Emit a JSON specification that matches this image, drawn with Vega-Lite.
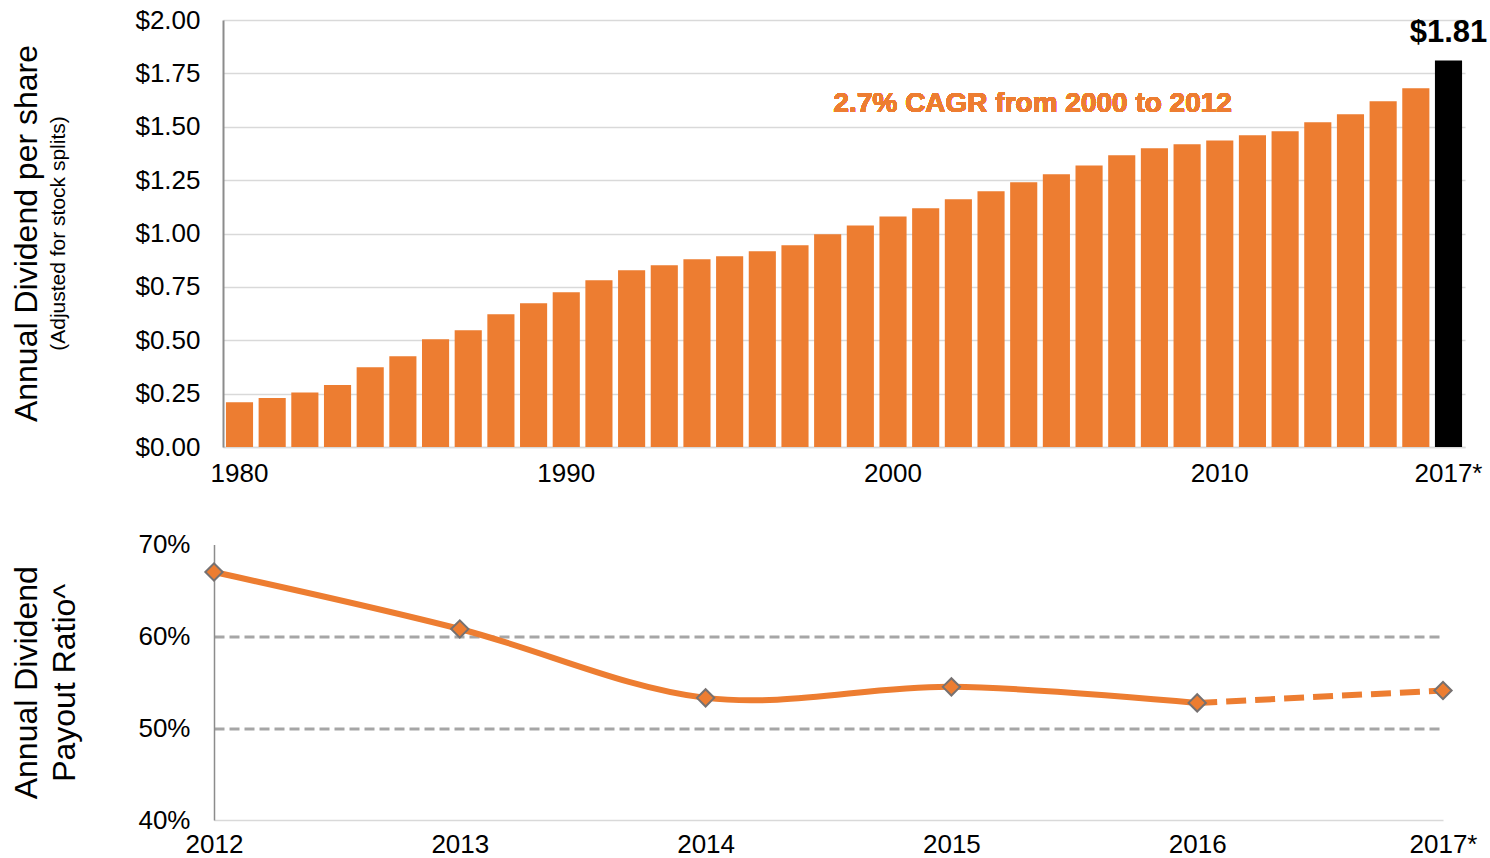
{
  "$schema": "https://vega.github.io/schema/vega-lite/v6.json",
  "padding": {"left": 10, "top": 7, "right": 2, "bottom": 0},
  "background": "white",
  "config": {"view": {"stroke": null}, "font": "Liberation Sans"},
  "datasets": {
    "dividends": [
      {"year": "1980", "value": 0.21}, {"year": "1981", "value": 0.23}, {"year": "1982", "value": 0.255},
      {"year": "1983", "value": 0.29}, {"year": "1984", "value": 0.373}, {"year": "1985", "value": 0.425},
      {"year": "1986", "value": 0.505}, {"year": "1987", "value": 0.547}, {"year": "1988", "value": 0.622},
      {"year": "1989", "value": 0.673}, {"year": "1990", "value": 0.725}, {"year": "1991", "value": 0.781},
      {"year": "1992", "value": 0.828}, {"year": "1993", "value": 0.851}, {"year": "1994", "value": 0.879},
      {"year": "1995", "value": 0.893}, {"year": "1996", "value": 0.917}, {"year": "1997", "value": 0.945},
      {"year": "1998", "value": 0.996}, {"year": "1999", "value": 1.038}, {"year": "2000", "value": 1.08},
      {"year": "2001", "value": 1.118}, {"year": "2002", "value": 1.16}, {"year": "2003", "value": 1.198},
      {"year": "2004", "value": 1.24}, {"year": "2005", "value": 1.277}, {"year": "2006", "value": 1.319},
      {"year": "2007", "value": 1.366}, {"year": "2008", "value": 1.399}, {"year": "2009", "value": 1.418},
      {"year": "2010", "value": 1.436}, {"year": "2011", "value": 1.46}, {"year": "2012", "value": 1.479},
      {"year": "2013", "value": 1.521}, {"year": "2014", "value": 1.558}, {"year": "2015", "value": 1.619},
      {"year": "2016", "value": 1.68}, {"year": "2017*", "value": 1.81}
    ],
    "payout": [
      {"year": "2012", "ratio": 0.670},
      {"year": "2013", "ratio": 0.608},
      {"year": "2014", "ratio": 0.533},
      {"year": "2015", "ratio": 0.545},
      {"year": "2016", "ratio": 0.5275},
      {"year": "2017*", "ratio": 0.541}
    ]
  },
  "spacing": 45.5,
  "vconcat": [
    {
      "width": 1242,
      "height": 427,
      "data": {"name": "dividends"},
      "title": {
        "text": "Annual Dividend per share",
        "subtitle": "(Adjusted for stock splits)",
        "orient": "left",
        "anchor": "middle",
        "font": "Liberation Sans",
        "fontSize": 32,
        "fontWeight": "normal",
        "color": "black",
        "subtitleFont": "Liberation Sans",
        "subtitleFontSize": 21,
        "subtitleColor": "black",
        "subtitlePadding": 4,
        "offset": 65
      },
      "encoding": {
        "x": {
          "field": "year",
          "type": "ordinal",
          "sort": null,
          "scale": {"paddingInner": 0.17, "paddingOuter": 0.09},
          "axis": {
            "values": ["1980", "1990", "2000", "2010", "2017*"],
            "labelAngle": 0,
            "labelFontSize": 26,
            "labelColor": "black",
            "labelPadding": 13,
            "ticks": false,
            "tickSize": 0,
            "domainColor": "#D9D9D9",
            "domainWidth": 1.5,
            "title": null
          }
        },
        "y": {
          "field": "value",
          "type": "quantitative",
          "scale": {"domain": [0, 2]},
          "axis": {
            "values": [0, 0.25, 0.5, 0.75, 1, 1.25, 1.5, 1.75, 2],
            "format": "$.2f",
            "labelFontSize": 26,
            "labelColor": "black",
            "labelPadding": 23,
            "ticks": false,
            "tickSize": 0,
            "domainColor": "#8C8C8C",
            "domainWidth": 2,
            "gridColor": "#D9D9D9",
            "gridWidth": 1.5,
            "title": null
          }
        }
      },
      "layer": [
        {
          "mark": {"type": "bar"},
          "encoding": {
            "color": {
              "condition": {"test": "datum.year == '2017*'", "value": "#000000"},
              "value": "#ED7D31"
            }
          }
        },
        {
          "transform": [{"filter": "datum.year == '2017*'"}],
          "mark": {"type": "text", "fontSize": 31, "fontWeight": "bold", "color": "black", "baseline": "alphabetic", "align": "center", "dy": -19},
          "encoding": {"text": {"field": "value", "type": "quantitative", "format": "$.2f"}}
        },
        {
          "mark": {"type": "text", "text": "2.7% CAGR from 2000 to 2012", "fontSize": 28, "fontWeight": "bold", "color": "#ED7D31", "baseline": "alphabetic", "align": "center", "dx": 9},
          "encoding": {
            "x": {"datum": "2004", "type": "ordinal"},
            "y": {"datum": 1.57, "type": "quantitative"}
          }
        }
      ]
    },
    {
      "width": 1220,
      "height": 275.5,
      "data": {"name": "payout"},
      "encoding": {
        "x": {
          "field": "year",
          "type": "ordinal",
          "sort": null,
          "scale": {"type": "point", "padding": 0, "range": [-9, 1220]},
          "axis": {
            "labelAngle": 0,
            "labelFontSize": 26,
            "labelColor": "black",
            "labelPadding": 11,
            "ticks": false,
            "tickSize": 0,
            "domainColor": "#D9D9D9",
            "domainWidth": 1.5,
            "title": null
          }
        },
        "y": {
          "field": "ratio",
          "type": "quantitative",
          "scale": {"domain": [0.4, 0.7]},
          "axis": {
            "values": [0.4, 0.5, 0.6, 0.7],
            "format": ".0%",
            "offset": 9,
            "labelFontSize": 26,
            "labelColor": "black",
            "labelPadding": 24,
            "ticks": false,
            "tickSize": 0,
            "domainColor": "#8C8C8C",
            "domainWidth": 1.5,
            "grid": true,
            "gridColor": "#A6A6A6",
            "gridWidth": 3,
            "gridDash": [10, 5],
            "gridOpacity": {"condition": {"test": "datum.value > 0.45 && datum.value < 0.65", "value": 1}, "value": 0},
            "title": ["Annual Dividend", "Payout Ratio^"],
            "titleFontSize": 32,
            "titleFontWeight": "normal",
            "titleColor": "black",
            "titleLineHeight": 38,
            "titlePadding": 56
          }
        }
      },
      "layer": [
        {
          "transform": [{"filter": "datum.year != '2017*'"}],
          "mark": {"type": "line", "color": "#ED7D31", "strokeWidth": 6, "interpolate": "cardinal"}
        },
        {
          "transform": [{"filter": "datum.year == '2016' || datum.year == '2017*'"}],
          "mark": {"type": "line", "color": "#ED7D31", "strokeWidth": 6, "strokeDash": [20, 9]}
        },
        {
          "mark": {"type": "point", "shape": "diamond", "size": 300, "filled": true, "fill": "#ED7D31", "stroke": "#767171", "strokeWidth": 2, "opacity": 1}
        }
      ]
    }
  ]
}
